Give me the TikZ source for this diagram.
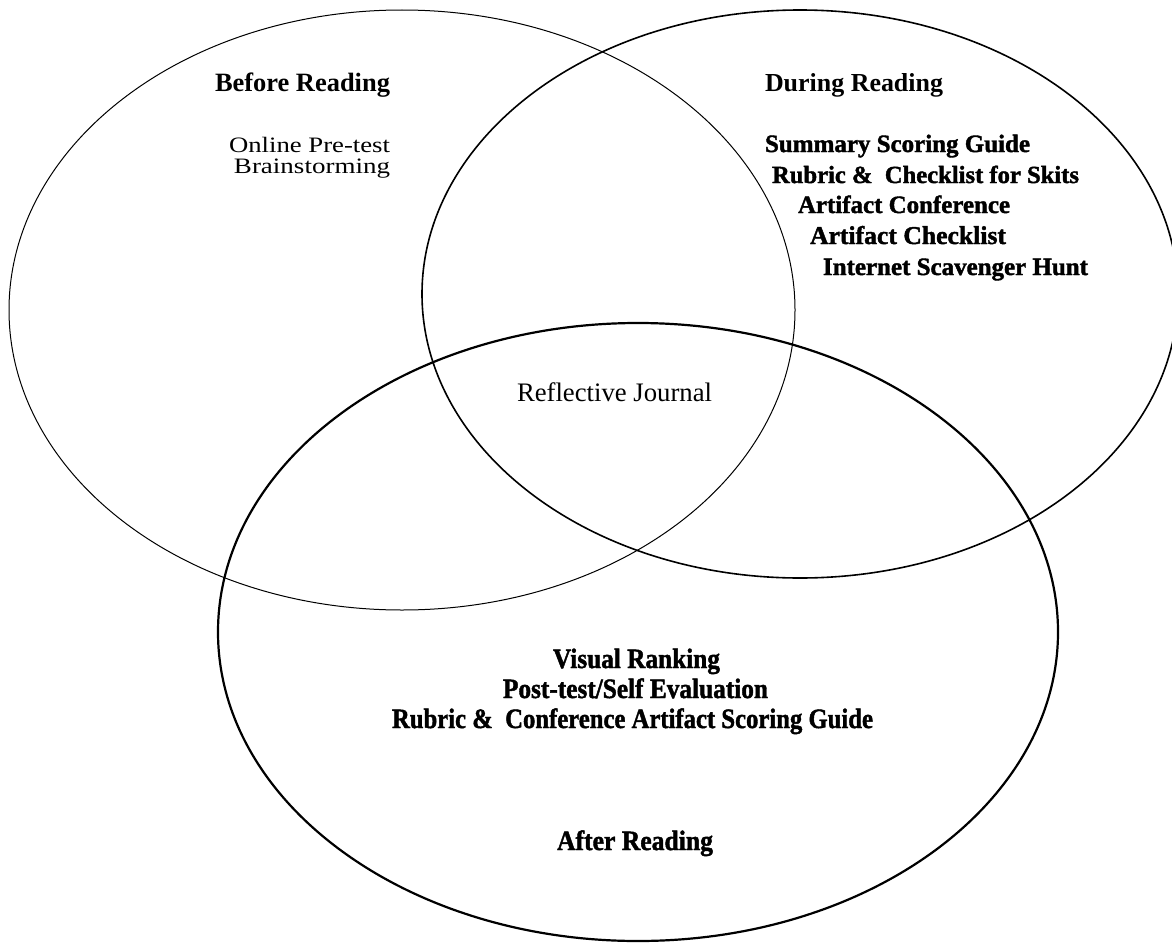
\documentclass[tikz,border=0pt]{standalone}
\usepackage{fontspec}
\setmainfont{Liberation Serif}
\newfontfamily\heavyfont[FakeBold=1.6]{Liberation Serif Bold}
\usepackage{graphicx}
\newcommand\fitw[2]{\resizebox{#1pt}{!}{#2}}
\newcommand\strw[2]{\resizebox{#1pt}{\height}{#2}}
\tikzset{
  ring/.style={draw=black},
  lbl/.style={inner sep=0pt, outer sep=0pt, font=\fontsize{20}{24}\selectfont},
  slbl/.style={inner sep=0pt, outer sep=0pt, font=\fontsize{22}{26}\selectfont},
  blbl/.style={lbl, font=\fontsize{20}{24}\selectfont\bfseries},
  hlbl/.style={lbl, font=\fontsize{20}{24}\selectfont\heavyfont},
  tlbl/.style={lbl, font=\fontsize{28}{32}\selectfont\heavyfont},
}
\begin{document}
\begin{tikzpicture}[x=1pt,y=-1pt]
\useasboundingbox (0,0) rectangle (1172,942);
\fill[white] (0,0) rectangle (1172,942);
% circles
\draw[ring, line width=1pt] (402,310) ellipse [x radius=393, y radius=300];
\draw[ring, line width=1.6pt] (800,294) ellipse [x radius=378, y radius=284];
\draw[ring, line width=2.2pt] (638,632) ellipse [x radius=420, y radius=309];
% Before Reading
\node[blbl, anchor=base east] (before) at (390,92) {\fitw{175}{Before Reading}};
\node[slbl, anchor=base east] (pretest) at (390,152) {\strw{161}{Online Pre-test}};
\node[slbl, anchor=base east] (brain) at (390,173) {\strw{156}{Brainstorming}};
% During Reading
\node[blbl, anchor=base west] (during) at (765,92) {\fitw{178}{During Reading}};
\node[hlbl, anchor=base west] (d1) at (765,152) {\fitw{265}{Summary Scoring Guide}};
\node[hlbl, anchor=base west] (d2) at (772,183) {\fitw{307}{Rubric \&\ \ Checklist for Skits}};
\node[hlbl, anchor=base west] (d3) at (798,213) {\fitw{212}{Artifact Conference}};
\node[hlbl, anchor=base west] (d4) at (810,244) {\fitw{196}{Artifact Checklist}};
\node[hlbl, anchor=base west] (d5) at (823,275) {\fitw{265}{Internet Scavenger Hunt}};
% centre
\node[lbl, anchor=base] (refl) at (614.5,401) {\fitw{195}{Reflective Journal}};
% After Reading
\node[tlbl, anchor=base] (a1) at (636.5,668) {\strw{167}{Visual Ranking}};
\node[tlbl, anchor=base] (a2) at (635.5,698) {\strw{265}{Post-test/Self Evaluation}};
\node[tlbl, anchor=base] (a3) at (632.5,728) {\strw{481}{Rubric \&\ \ Conference Artifact Scoring Guide}};
\node[tlbl, anchor=base] (after) at (635,850) {\strw{156}{After Reading}};
\end{tikzpicture}
\end{document}
